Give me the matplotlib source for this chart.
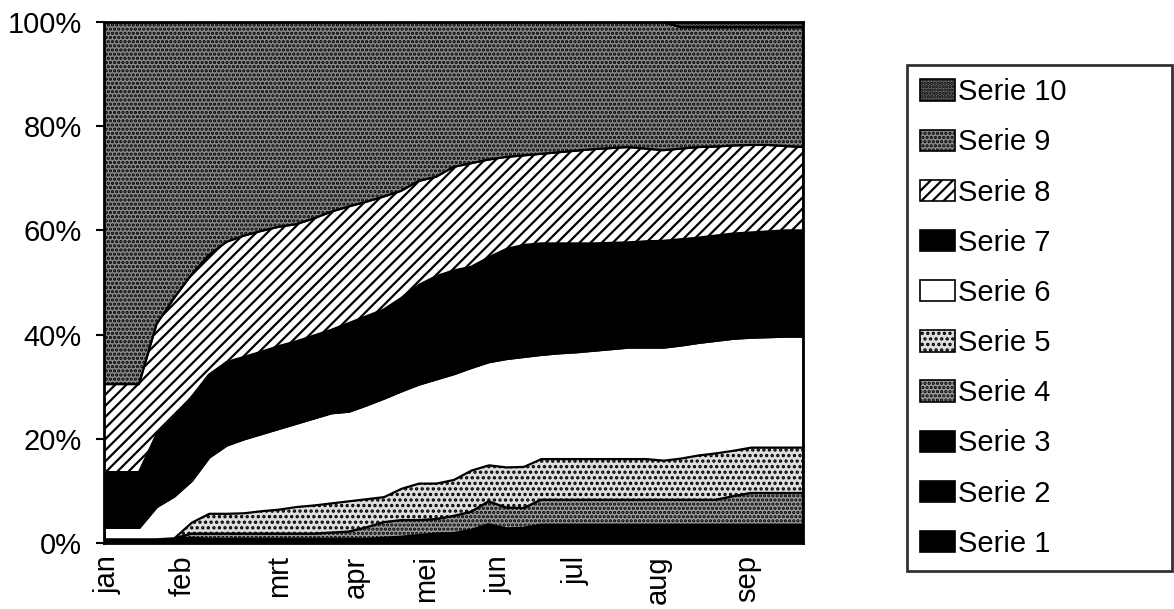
import numpy as np
import matplotlib
matplotlib.use("Agg")
import matplotlib.pyplot as plt
from matplotlib.patches import Patch

plt.rcParams['font.family'] = ['Liberation Sans', 'DejaVu Sans']
plt.rcParams['hatch.linewidth'] = 1.6

# samples along the x axis (index of measurement)
weeks = np.arange(41)

# month labels and the sample position they sit under
months = ['jan', 'feb', 'mrt', 'apr', 'mei', 'jun', 'jul', 'aug', 'sep']
month_pos = [0.2, 4.5, 10.0, 14.4, 18.4, 22.6, 27.0, 31.7, 36.8]

yticks = [0, 20, 40, 60, 80, 100]
ytick_labels = ['0%', '20%', '40%', '60%', '80%', '100%']

names = ['Serie 1', 'Serie 2', 'Serie 3', 'Serie 4', 'Serie 5',
         'Serie 6', 'Serie 7', 'Serie 8', 'Serie 9', 'Serie 10']

s1 = [0.4, 0.4, 0.4, 0.4, 0.4, 0.5, 0.4, 0.4, 0.4, 0.4,
      0.4, 0.4, 0.4, 0.4, 0.4, 0.4, 0.5, 0.6, 0.7, 0.8,
      0.8, 1.2, 1.6, 1.3, 1.3, 1.5, 1.5, 1.5, 1.5, 1.5,
      1.5, 1.5, 1.5, 1.5, 1.5, 1.5, 1.5, 1.5, 1.5, 1.5, 1.5]
s2 = [0.2, 0.2, 0.2, 0.2, 0.2, 0.3, 0.2, 0.2, 0.2, 0.2,
      0.2, 0.2, 0.2, 0.2, 0.2, 0.2, 0.3, 0.3, 0.4, 0.5,
      0.5, 0.6, 1.0, 0.7, 0.8, 1.0, 1.0, 1.0, 1.0, 1.0,
      1.0, 1.0, 1.0, 1.0, 1.0, 1.0, 1.0, 1.0, 1.0, 1.0, 1.0]
s3 = [0.2, 0.2, 0.2, 0.2, 0.2, 0.2, 0.2, 0.2, 0.2, 0.2,
      0.2, 0.2, 0.2, 0.2, 0.2, 0.2, 0.2, 0.3, 0.4, 0.5,
      0.6, 0.7, 1.0, 0.8, 0.8, 1.0, 1.0, 1.0, 1.0, 1.0,
      1.0, 1.0, 1.0, 1.0, 1.0, 1.0, 1.0, 1.0, 1.0, 1.0, 1.0]
s4 = [0.0, 0.0, 0.0, 0.0, 0.1, 0.8, 1.0, 1.0, 1.0, 1.0,
      1.0, 1.0, 1.0, 1.2, 1.4, 2.2, 3.0, 3.2, 2.9, 2.8,
      3.3, 3.5, 4.4, 4.0, 3.8, 4.8, 4.8, 4.8, 4.8, 4.8,
      4.8, 4.8, 4.8, 4.8, 4.8, 4.8, 5.5, 6.1, 6.1, 6.1, 6.1]
s5 = [0.0, 0.0, 0.0, 0.0, 0.1, 2.2, 3.9, 3.9, 4.0, 4.4,
      4.7, 5.2, 5.5, 5.7, 5.9, 5.5, 4.9, 6.1, 7.1, 6.9,
      7.0, 8.0, 7.0, 7.8, 8.0, 7.9, 7.9, 7.9, 7.9, 7.9,
      7.9, 7.9, 7.6, 8.0, 8.6, 9.0, 8.8, 8.8, 8.8, 8.8, 8.8]
s6 = [2.2, 2.2, 2.2, 6.2, 8.0, 8.0, 10.8, 13.1, 14.2, 14.8,
      15.5, 16.0, 16.7, 17.3, 17.2, 18.0, 18.9, 18.7, 19.0, 20.0,
      20.3, 19.7, 19.8, 20.8, 21.1, 20.0, 20.3, 20.5, 20.8, 21.1,
      21.4, 21.4, 21.7, 21.7, 21.6, 21.6, 21.5, 21.1, 21.2, 21.3, 21.3]
s7 = [10.6, 10.6, 10.6, 13.8, 15.0, 16.0, 15.8, 15.9, 15.7, 15.7,
      15.8, 15.7, 15.8, 15.9, 16.9, 17.0, 17.0, 17.8, 19.0, 19.7,
      19.8, 19.3, 20.0, 21.0, 21.4, 21.3, 21.0, 20.8, 20.5, 20.3,
      20.1, 20.3, 20.4, 20.3, 20.1, 20.1, 20.1, 20.1, 20.2, 20.3, 20.3]
s8 = [16.9, 16.9, 16.9, 21.2, 23.0, 23.5, 23.0, 23.1, 23.3, 23.2,
      22.9, 22.5, 22.5, 22.7, 22.4, 22.0, 21.7, 20.6, 20.0, 19.1,
      19.9, 19.9, 18.8, 17.7, 17.2, 17.2, 17.5, 17.8, 18.1, 18.2,
      18.3, 17.8, 17.4, 17.4, 17.4, 17.1, 16.9, 16.8, 16.6, 16.2, 16.0]
s9 = [69.5, 69.5, 69.5, 58.0, 53.0, 48.5, 44.7, 42.2, 41.0, 40.1,
      39.3, 38.8, 37.7, 36.4, 35.4, 34.5, 33.5, 32.4, 30.5, 29.7,
      27.8, 27.1, 26.4, 25.9, 25.6, 25.3, 25.0, 24.7, 24.4, 24.2,
      24.0, 24.3, 24.6, 23.3, 23.0, 22.9, 22.7, 22.6, 22.6, 22.8, 23.0]
s10 = [0.0, 0.0, 0.0, 0.0, 0.0, 0.0, 0.0, 0.0, 0.0, 0.0,
       0.0, 0.0, 0.0, 0.0, 0.0, 0.0, 0.0, 0.0, 0.0, 0.0,
       0.0, 0.0, 0.0, 0.0, 0.0, 0.0, 0.0, 0.0, 0.0, 0.0,
       0.0, 0.0, 0.0, 1.0, 1.0, 1.0, 1.0, 1.0, 1.0, 1.0, 1.0]

series = np.array([s1, s2, s3, s4, s5, s6, s7, s8, s9, s10])
pct = series / series.sum(axis=0) * 100

colors = ['black', 'black', 'black', '#9c9c9c', '#dedede',
          'white', 'black', 'white', '#8a8a8a', '#6e6e6e']
hatches = [None, None, None, '....', '...', None, None, '///', '....', '.....']

fig = plt.figure(figsize=(11.74, 6.09), dpi=100)
ax = fig.add_axes([0.0886, 0.1084, 0.5955, 0.8555])

polys = ax.stackplot(weeks, *pct, colors=colors, edgecolor='black', linewidth=1.6)
for p, h in zip(polys, hatches):
    if h:
        p.set_hatch(h)

ax.set_xlim(weeks[0], weeks[-1])
ax.set_ylim(0, 100)
ax.set_yticks(yticks)
ax.set_yticklabels(ytick_labels, fontsize=21)
ax.set_xticks(month_pos)
ax.set_xticklabels(months, rotation=90, fontsize=21)
ax.tick_params(axis='x', length=0, pad=9)
ax.tick_params(axis='y', direction='out', length=6, width=1.5, pad=10)
for sp in ax.spines.values():
    sp.set_linewidth(2)

handles = [Patch(facecolor=c, edgecolor='black', hatch=h, linewidth=1.2)
           for c, h in zip(colors, hatches)]
leg = fig.legend(handles[::-1], names[::-1], loc='upper left',
                 bbox_to_anchor=(0.7726, 0.893, 0.226, 0.0), mode='expand',
                 fontsize=21, frameon=True, fancybox=False,
                 handlelength=1.2, handleheight=0.75, handletextpad=0.1,
                 labelspacing=0.76, borderpad=0.45, borderaxespad=0)
leg.get_frame().set_edgecolor('black')
leg.get_frame().set_linewidth(2)

fig.savefig('out.png', dpi=100)
